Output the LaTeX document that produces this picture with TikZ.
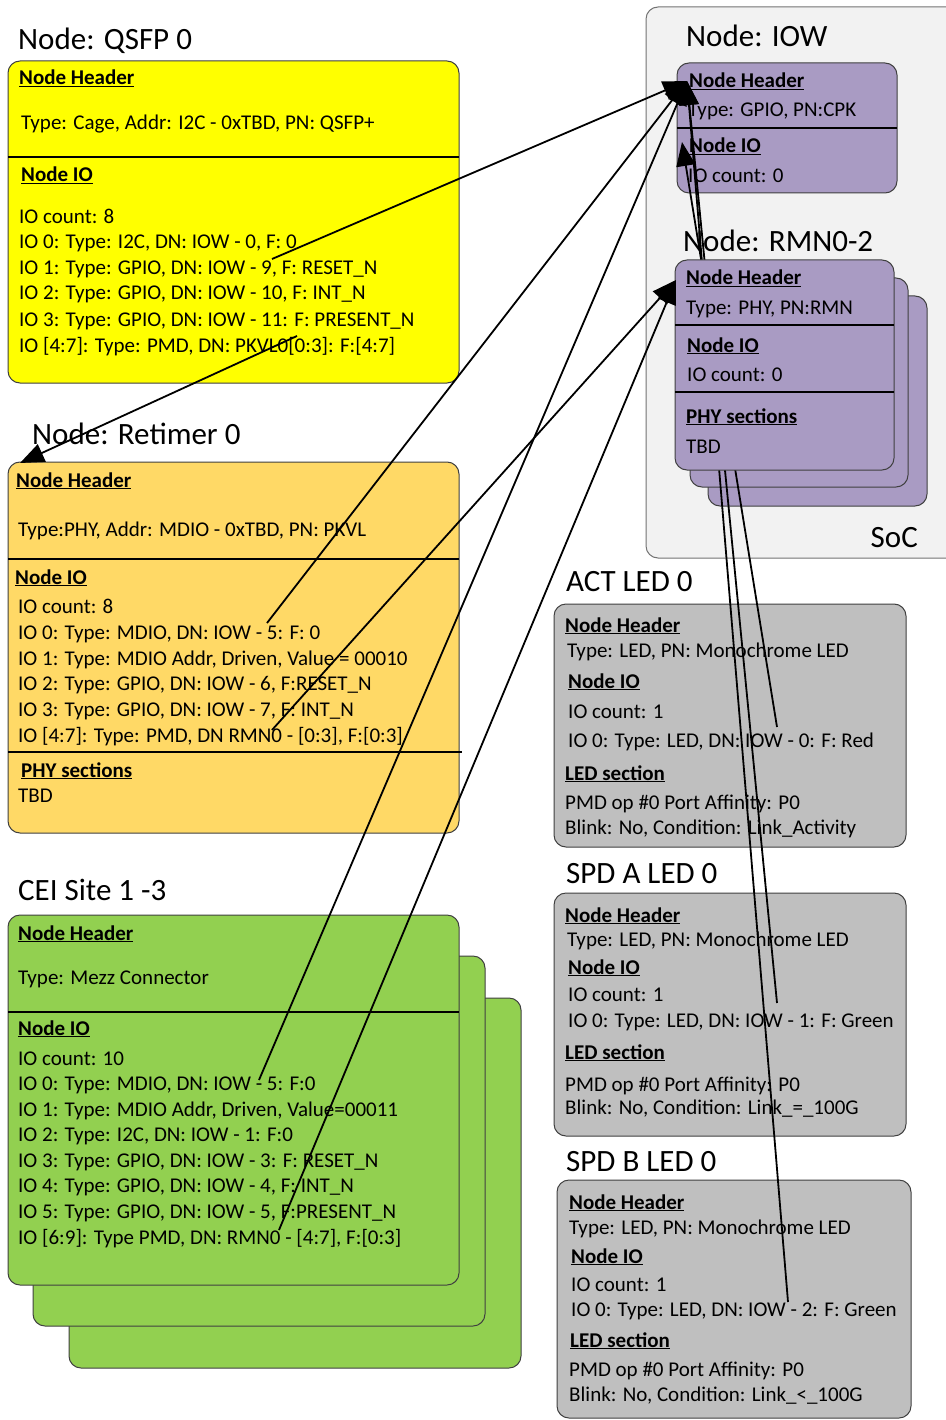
\documentclass[tikz,border=0pt]{standalone}
\usepackage{fontspec}
\setmainfont{Carlito}
\usetikzlibrary{arrows.meta}
\definecolor{qsfpY}{HTML}{FFFF00}
\definecolor{retO}{HTML}{FFD966}
\definecolor{ceiG}{HTML}{92D050}
\definecolor{phyP}{HTML}{A99BC3}
\definecolor{ledG}{HTML}{BFBFBF}
\definecolor{socG}{HTML}{F2F2F2}
\newcommand{\hd}[1]{\underline{\textbf{#1}}}
\tikzset{
  panel/.style={draw=black!75, line width=1pt, rounded corners=12pt,
    anchor=north west, inner sep=0pt, outer sep=0pt},
  sep/.style={line width=1.6pt},
  txt/.style={anchor=base west, inner sep=0pt, font=\fontsize{21}{25}\selectfont},
  ttl/.style={anchor=base west, inner sep=0pt, font=\fontsize{31}{37}\selectfont},
  link/.style={line width=1.8pt, -{Triangle[length=24pt,width=19pt]}},
}
\begin{document}
\begin{tikzpicture}[x=1pt,y=-1pt]
\useasboundingbox (0,0) rectangle (945,1420);
\fill[white] (0,0) rectangle (945,1420);

% ---------- SoC container ----------
\node[panel, draw=black!55, fill=socG, minimum width=330, minimum height=551] (soc) at (646,7) {};
\node[anchor=base east, inner sep=0pt, font=\fontsize{31}{37}\selectfont] (socl) at (918,547) {SoC};

% ---------- IOW ----------
\node[ttl] (iowt) at (686,47) {Node: IOW};
\node[panel, fill=phyP, minimum width=220, minimum height=130] (iow) at (677,63) {};
\draw[sep] (677,128) -- (897,128);
\node[txt] (iow1) at (689,88) {\hd{Node Header}};
\node[txt] (iow2) at (688,117) {Type: GPIO, PN:CPK};
\node[txt] (iow3) at (689,153) {\hd{Node IO}};
\node[txt] (iow4) at (688,183) {IO count: 0};

% ---------- QSFP ----------
\node[ttl] (qt) at (18,50) {Node: QSFP 0};
\node[panel, fill=qsfpY, minimum width=451, minimum height=322] (qsfp) at (8,61) {};
\draw[sep] (8,157) -- (459,157);
\node[txt] (q1) at (19,85) {\hd{Node Header}};
\node[txt] (q2) at (21,130) {Type: Cage, Addr: I2C - 0xTBD, PN: QSFP+};
\node[txt] (q3) at (21,182) {\hd{Node IO}};
\node[txt] (q4) at (19,224) {IO count: 8};
\node[txt] (q5) at (19,249) {IO 0: Type: I2C, DN: IOW - 0, F: 0};
\node[txt] (q6) at (19,275) {IO 1: Type: GPIO, DN: IOW - 9, F: RESET\_N};
\node[txt] (q7) at (19,300) {IO 2: Type: GPIO, DN: IOW - 10, F: INT\_N};
\node[txt] (q8) at (19,326) {IO 3: Type: GPIO, DN: IOW - 11: F: PRESENT\_N};
\node[txt] (q9) at (19,352) {IO [4:7]: Type: PMD, DN: PKVL0[0:3]: F:[4:7]};

% ---------- Retimer ----------
\node[ttl] (rt) at (32,444) {Node: Retimer 0};
\node[panel, fill=retO, minimum width=451, minimum height=371] (ret) at (8,462) {};
\draw[sep] (8,559) -- (459,559);
\draw[sep] (8,752) -- (462,752);
\node[txt] (r1) at (16,487) {\hd{Node Header}};
\node[txt] (r2) at (18,536) {Type:PHY, Addr: MDIO - 0xTBD, PN: PKVL};
\node[txt] (r3) at (15,584) {\hd{Node IO}};
\node[txt] (r4) at (18,613) {IO count: 8};
\node[txt] (r5) at (18,639) {IO 0: Type: MDIO, DN: IOW - 5: F: 0};
\node[txt] (r6) at (18,665) {IO 1: Type: MDIO Addr, Driven, Value = 00010};
\node[txt] (r7) at (18,690) {IO 2: Type: GPIO, DN: IOW - 6, F:RESET\_N};
\node[txt] (r8) at (18,716) {IO 3: Type: GPIO, DN: IOW - 7, F: INT\_N};
\node[txt] (r9) at (18,742) {IO [4:7]: Type: PMD, DN RMN0 - [0:3], F:[0:3]};
\node[txt] (r10) at (21,777) {\hd{PHY sections}};
\node[txt] (r11) at (18,802) {TBD};

% ---------- CEI sites (stack of three) ----------
\node[ttl] (ct) at (18,900) {CEI Site 1 -3};
\node[panel, fill=ceiG, minimum width=452, minimum height=370] (cei3) at (69,998) {};
\node[panel, fill=ceiG, minimum width=452, minimum height=370] (cei2) at (33,956) {};
\node[panel, fill=ceiG, minimum width=451, minimum height=370] (cei) at (8,915) {};
\draw[sep] (8,1012) -- (459,1012);
\node[txt] (c1) at (18,940) {\hd{Node Header}};
\node[txt] (c2) at (18,984) {Type: Mezz Connector};
\node[txt] (c3) at (18,1035) {\hd{Node IO}};
\node[txt] (c4) at (18,1065) {IO count: 10};
\node[txt] (c5) at (18,1090) {IO 0: Type: MDIO, DN: IOW - 5: F:0};
\node[txt] (c6) at (18,1116) {IO 1: Type: MDIO Addr, Driven, Value=00011};
\node[txt] (c7) at (18,1141) {IO 2: Type: I2C, DN: IOW - 1: F:0};
\node[txt] (c8) at (18,1167) {IO 3: Type: GPIO, DN: IOW - 3: F: RESET\_N};
\node[txt] (c9) at (18,1192) {IO 4: Type: GPIO, DN: IOW - 4, F: INT\_N};
\node[txt] (c10) at (18,1218) {IO 5: Type: GPIO, DN: IOW - 5, F:PRESENT\_N};
\node[txt] (c11) at (18,1244) {IO [6:9]: Type PMD, DN: RMN0 - [4:7], F:[0:3]};

% ---------- ACT LED 0 ----------
\node[ttl] (at) at (566,591) {ACT LED 0};
\node[panel, fill=ledG, minimum width=352, minimum height=243] (act) at (554,604) {};
\node[txt] (a1) at (565,632) {\hd{Node Header}};
\node[txt] (a2) at (567,657) {Type: LED, PN: Monochrome LED};
\node[txt] (a3) at (568,688) {\hd{Node IO}};
\node[txt] (a4) at (568,718) {IO count: 1};
\node[txt] (a5) at (568,747) {IO 0: Type: LED, DN: IOW - 0: F: Red};
\node[txt] (a6) at (565,780) {\hd{LED section}};
\node[txt] (a7) at (565,809) {PMD op \#0 Port Affinity: P0};
\node[txt] (a8) at (565,834) {Blink: No, Condition: Link\_Activity};

% ---------- SPD A LED 0 ----------
\node[ttl] (sat) at (566,883) {SPD A LED 0};
\node[panel, fill=ledG, minimum width=352, minimum height=243] (spda) at (554,893) {};
\node[txt] (sa1) at (565,922) {\hd{Node Header}};
\node[txt] (sa2) at (567,946) {Type: LED, PN: Monochrome LED};
\node[txt] (sa3) at (568,974) {\hd{Node IO}};
\node[txt] (sa4) at (568,1001) {IO count: 1};
\node[txt] (sa5) at (568,1027) {IO 0: Type: LED, DN: IOW - 1: F: Green};
\node[txt] (sa6) at (565,1059) {\hd{LED section}};
\node[txt] (sa7) at (565,1091) {PMD op \#0 Port Affinity: P0};
\node[txt] (sa8) at (565,1114) {Blink: No, Condition: Link\_=\_100G};

% ---------- SPD B LED 0 ----------
\node[ttl] (sbt) at (566,1171) {SPD B LED 0};
\node[panel, fill=ledG, minimum width=354, minimum height=238] (spdb) at (557,1180) {};
\node[txt] (sb1) at (569,1209) {\hd{Node Header}};
\node[txt] (sb2) at (569,1234) {Type: LED, PN: Monochrome LED};
\node[txt] (sb3) at (571,1263) {\hd{Node IO}};
\node[txt] (sb4) at (571,1291) {IO count: 1};
\node[txt] (sb5) at (571,1316) {IO 0: Type: LED, DN: IOW - 2: F: Green};
\node[txt] (sb6) at (570,1347) {\hd{LED section}};
\node[txt] (sb7) at (569,1376) {PMD op \#0 Port Affinity: P0};
\node[txt] (sb8) at (569,1401) {Blink: No, Condition: Link\_<\_100G};

% ---------- RMN0-2 (back copies) ----------
\node[ttl] (rmnt) at (683,252) {Node: RMN0-2};
\node[panel, fill=phyP, minimum width=219, minimum height=210] (rmn3) at (708,296) {};
\node[panel, fill=phyP, minimum width=218, minimum height=209] (rmn2) at (690,278) {};

% ---------- connector end points ----------
\coordinate (iowA) at (687,81);
\coordinate (iowB) at (682,142);
\coordinate (rmnA) at (676,280);
\coordinate (retA) at (20,463);
\coordinate (qA) at (272,259);
\coordinate (qB) at (297,336);
\coordinate (rA) at (267,623);
\coordinate (rB) at (272,730);
\coordinate (cA) at (259,1080);
\coordinate (cB) at (279,1230);
\coordinate (aA) at (777,727);
\coordinate (saA) at (777,1003);
\coordinate (sbA) at (788,1302);

% LED links run behind the front RMN card
\draw[link] (aA) -- (iowB);
\draw[link] (saA) -- (iowA);
\draw[link] (sbA) -- (iowA);

% ---------- RMN0-2 (front card) ----------
\node[panel, fill=phyP, minimum width=219, minimum height=210] (rmn) at (675,260) {};
\draw[sep] (675,325) -- (894,325);
\draw[sep] (675,392) -- (894,392);
\node[txt] (m1) at (686,285) {\hd{Node Header}};
\node[txt] (m2) at (686,315) {Type: PHY, PN:RMN};
\node[txt] (m3) at (687,352) {\hd{Node IO}};
\node[txt] (m4) at (687,381) {IO count: 0};
\node[txt] (m5) at (686,423) {\hd{PHY sections}};
\node[txt] (m6) at (686,453) {TBD};

% ---------- remaining links ----------
\draw[link] (qA) -- (iowA);
\draw[link] (rA) -- (iowA);
\draw[link] (cA) -- (iowA);
\draw[link] (rB) -- (rmnA);
\draw[link] (cB) -- (rmnA);
\draw[link] (qB) -- (retA);
\end{tikzpicture}
\end{document}
